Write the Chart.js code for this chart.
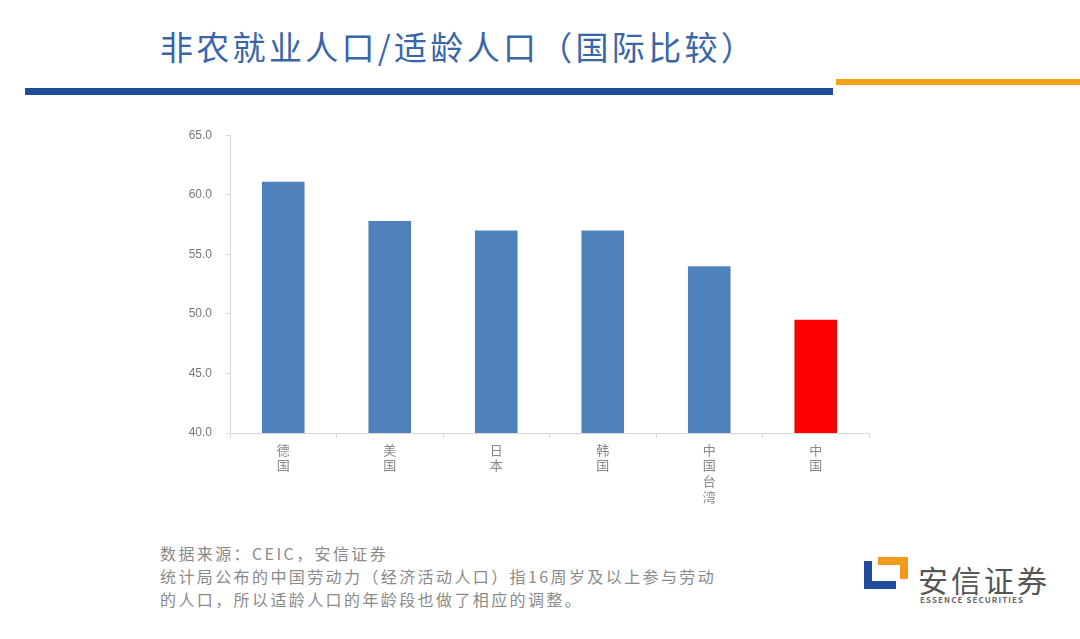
<!DOCTYPE html>
<html>
<head>
<meta charset="utf-8">
<script src="https://cdn.jsdelivr.net/npm/chart.js@4.4.0/dist/chart.umd.min.js"></script>
<style>
  body { margin: 0; width: 1080px; height: 639px; background: #fff; position: relative; overflow: hidden;
         font-family: "Noto Sans CJK SC", "Noto Sans", sans-serif; }
  #title { position: absolute; left: 160px; top: 22px; font-size: 33px; color: #3a66a8; letter-spacing: 3.3px; white-space: nowrap; }
  #blueBar { position: absolute; left: 25px; top: 88px; width: 808px; height: 7px; background: #1d4f99; }
  #orangeBar { position: absolute; left: 836px; top: 79px; width: 244px; height: 6px; background: #f7a01a; }
  #chartBox { position: absolute; left: 150px; top: 114px; width: 730px; height: 406px; }
  #notes { position: absolute; left: 160px; top: 542px; font-size: 16px; line-height: 23px; color: #8a8a8a; letter-spacing: 2.4px; white-space: nowrap; }
  #logo { position: absolute; left: 860px; top: 553px; }
  #logoText { position: absolute; left: 918px; top: 557px; font-size: 30px; color: #555; letter-spacing: 3px; }
  #logoSub { position: absolute; left: 920px; top: 594px; font-size: 8px; color: #666; letter-spacing: 1.1px; font-weight: bold; }
</style>
</head>
<body>
<div id="title">非农就业人口/适龄人口（国际比较）</div>
<div id="blueBar"></div>
<div id="orangeBar"></div>
<div id="chartBox"><canvas id="chart"></canvas></div>
<div id="notes">数据来源：CEIC，安信证券<br>统计局公布的中国劳动力（经济活动人口）指16周岁及以上参与劳动<br>的人口，所以适龄人口的年龄段也做了相应的调整。</div>
<svg id="logo" width="52" height="40" viewBox="0 0 52 40">
  <polygon points="4,8 12,8 12,28 36,28 36,36 4,36" fill="#1f4a9e"/>
  <polygon points="18,4 48,4 48,26 40,26 40,12 18,12" fill="#f29a1d"/>
</svg>
<div id="logoText">安信证券</div>
<div id="logoSub">ESSENCE SECURITIES</div>
<script>
const categories = [["德", "国"], ["美", "国"], ["日", "本"], ["韩", "国"], ["中", "国", "台", "湾"], ["中", "国"]];
const ratios = [61.1, 57.8, 57.0, 57.0, 54.0, 49.5];
const barColors = ["#4f81bd", "#4f81bd", "#4f81bd", "#4f81bd", "#4f81bd", "#ff0000"];

const ctx = document.getElementById("chart").getContext("2d");
new Chart(ctx, {
    type: "bar",
    data: {
        labels: categories,
        datasets: [{
            data: ratios,
            backgroundColor: barColors,
            borderWidth: 0,
            barPercentage: 0.4,
            categoryPercentage: 1
        }]
    },
    options: {
        responsive: true,
        maintainAspectRatio: false,
        animation: false,
        layout: { padding: { top: 8, right: 11, left: 0, bottom: 0 } },
        plugins: {
            legend: { display: false },
            tooltip: { enabled: false }
        },
        scales: {
            x: {
                grid: { drawOnChartArea: false, color: "#d9d9d9", tickLength: 5 },
                border: { color: "#d9d9d9" },
                ticks: { color: "#888", font: { size: 13, family: "Noto Sans CJK SC" }, padding: 4, maxRotation: 0 },
                afterFit: function (scale) { scale.height = 87; }
            },
            y: {
                min: 40,
                max: 65,
                grid: { drawOnChartArea: false, color: "#d9d9d9", tickLength: 4 },
                border: { color: "#d9d9d9" },
                ticks: {
                    stepSize: 5,
                    color: "#777",
                    font: { size: 12, family: "Liberation Sans" },
                    padding: 14,
                    callback: function (v) { return v.toFixed(1); }
                },
                afterFit: function (scale) { scale.width = 80; }
            }
        }
    }
});
</script>
</body>
</html>
